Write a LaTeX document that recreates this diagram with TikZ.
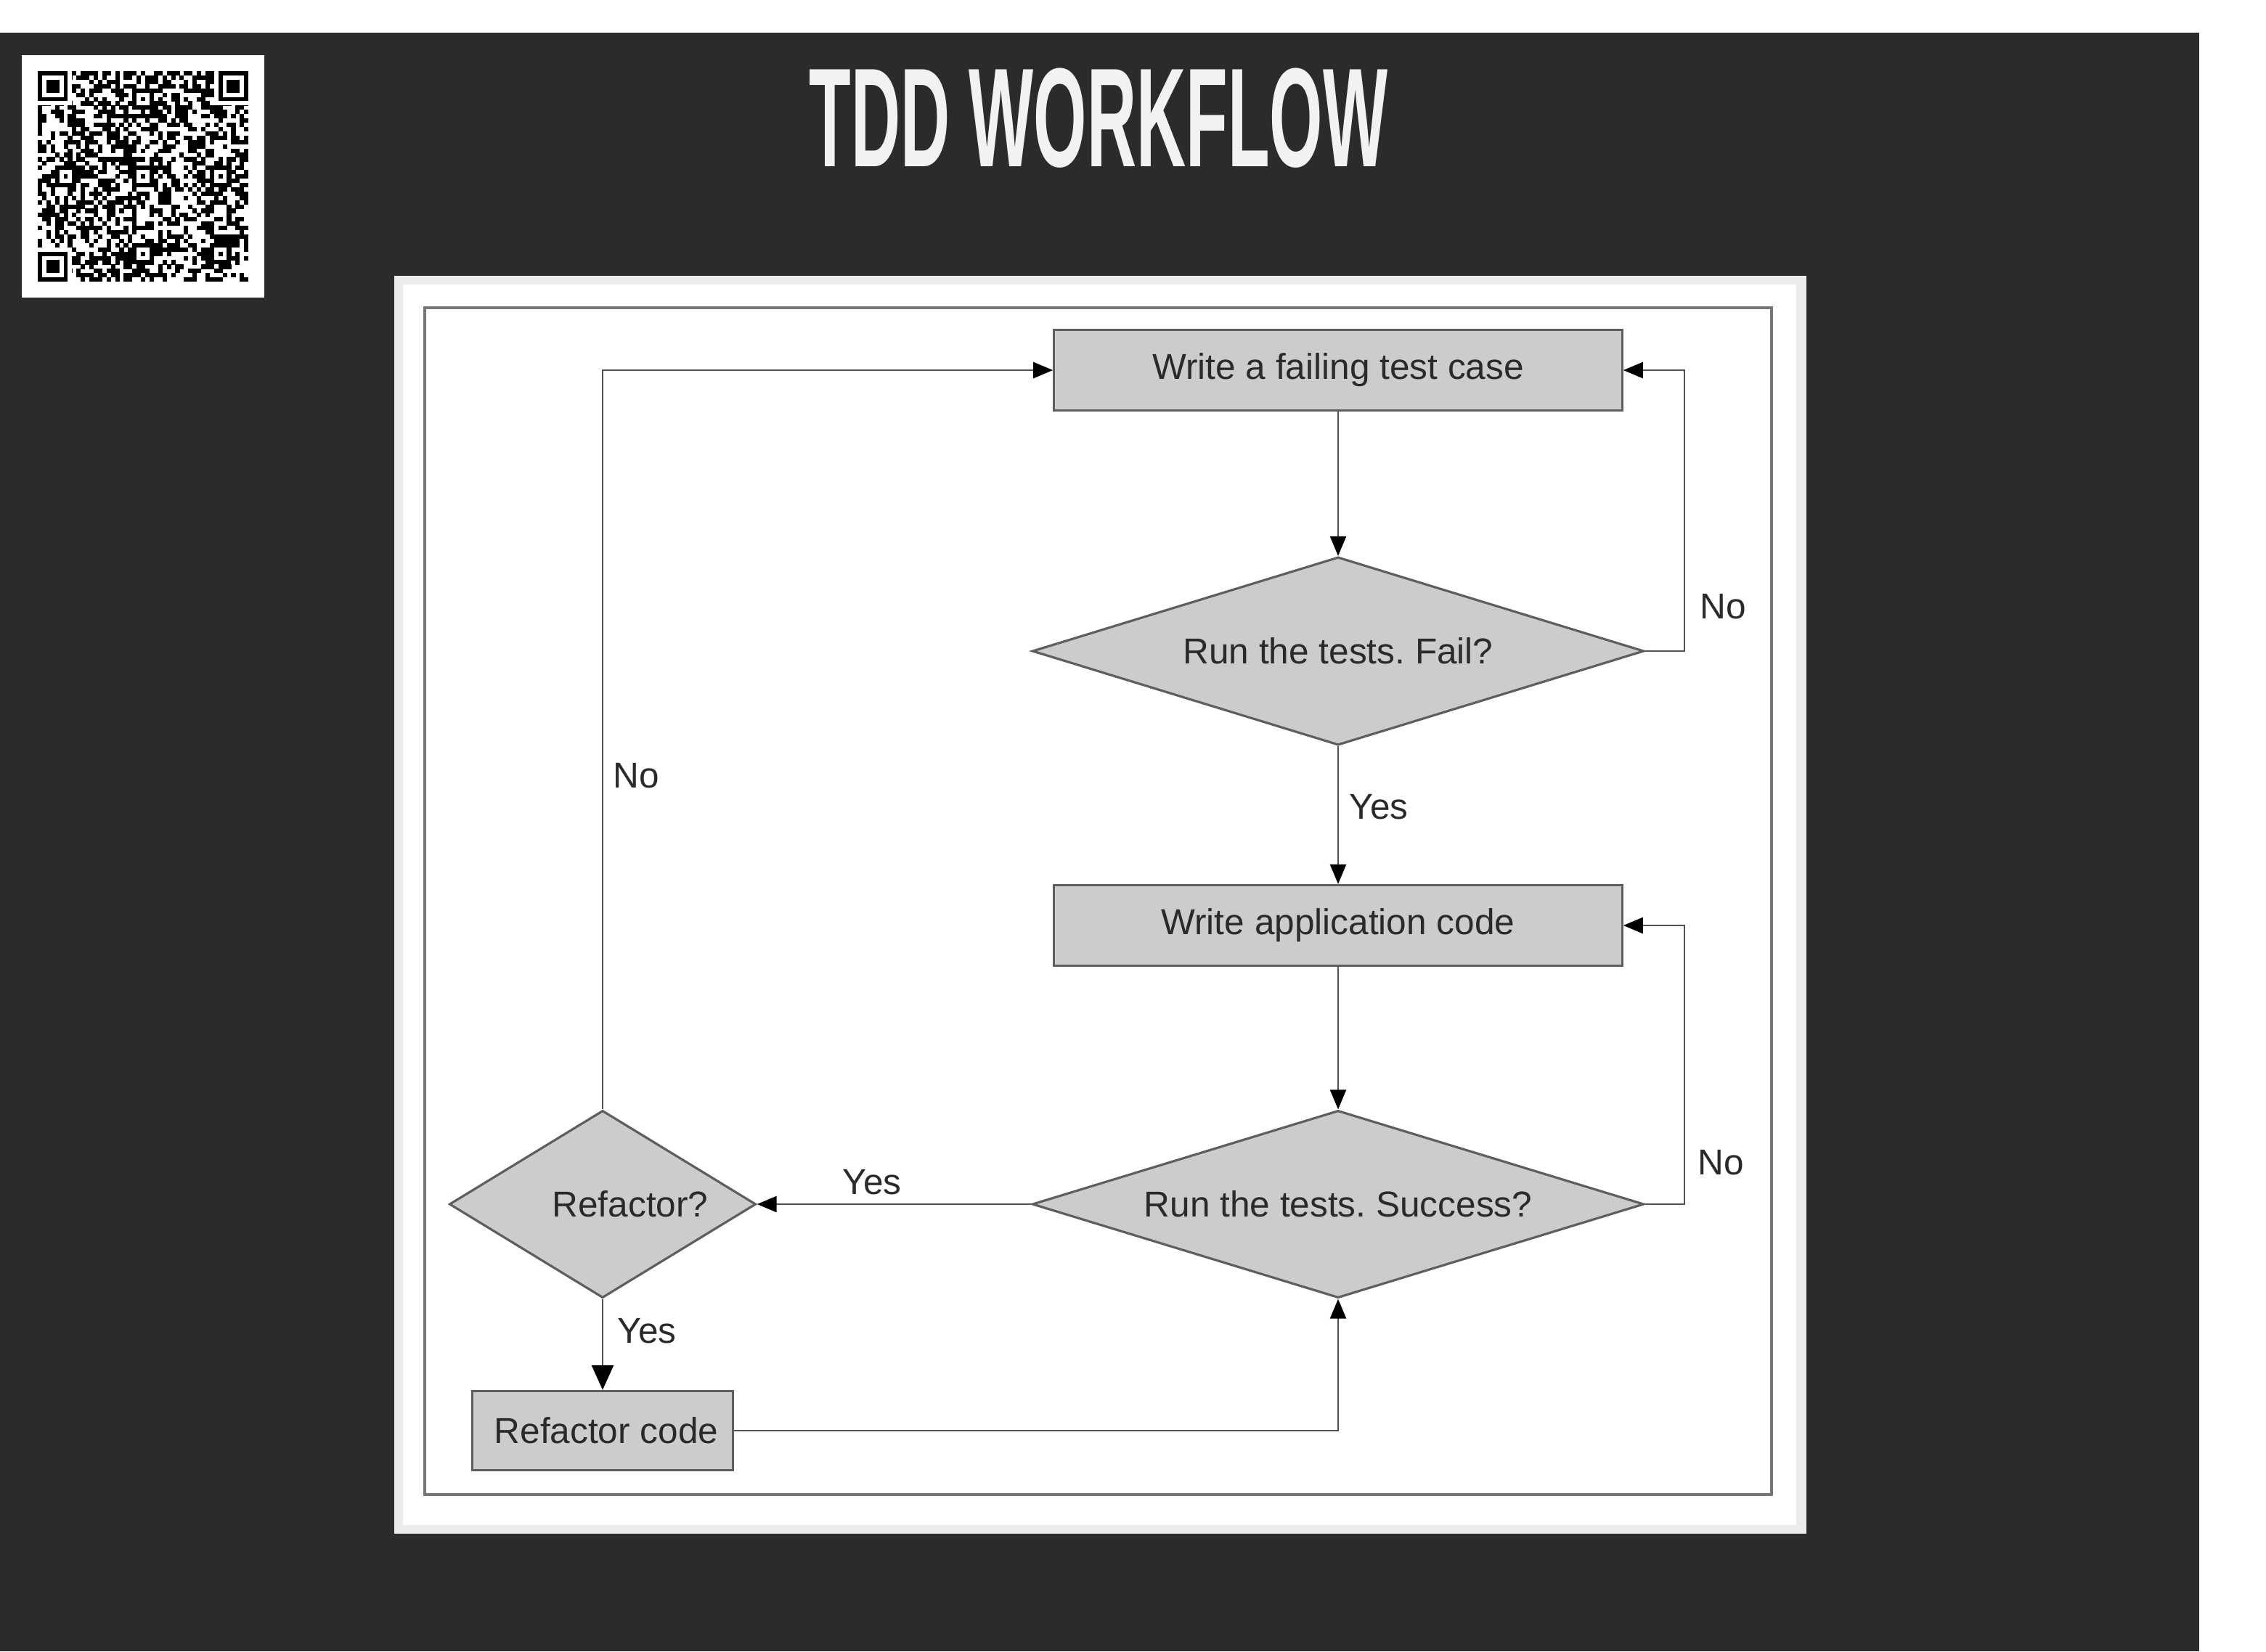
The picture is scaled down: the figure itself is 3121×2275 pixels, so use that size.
\documentclass[tikz,border=0pt]{standalone}
\usepackage{fontspec}
\setmainfont{Liberation Sans}
\frenchspacing
\usetikzlibrary{shapes.geometric,arrows.meta}
\definecolor{slidebg}{HTML}{2B2B2B}
\definecolor{boxfill}{HTML}{CBCCCD}
\definecolor{boxline}{HTML}{5E5E5E}
\definecolor{conline}{HTML}{505050}
\definecolor{txt}{HTML}{2A2A2A}
\definecolor{framegrey}{HTML}{ECECEC}
\definecolor{innerframe}{HTML}{767676}
\definecolor{titlecol}{HTML}{F2F2F2}
\newcommand\qrcell[2]{\fill[black] ({52+#1*5.92},{98+#2*5.92}) rectangle +(6.1,6.1);}
\newcommand\qrfinder[2]{%
  \fill[white] ({52+(#1-1)*5.92},{98+(#2-1)*5.92}) rectangle +(53.3,53.3);
  \fill[black] ({52+#1*5.92},{98+#2*5.92}) rectangle +(41.44,41.44);
  \fill[white] ({52+(#1+1)*5.92},{98+(#2+1)*5.92}) rectangle +(29.6,29.6);
  \fill[black] ({52+(#1+2)*5.92},{98+(#2+2)*5.92}) rectangle +(17.76,17.76);}
\newcommand\qralign[2]{%
  \fill[black] ({52+(#1-2)*5.92},{98+(#2-2)*5.92}) rectangle +(29.6,29.6);
  \fill[white] ({52+(#1-1)*5.92},{98+(#2-1)*5.92}) rectangle +(17.76,17.76);
  \fill[black] ({52+#1*5.92},{98+#2*5.92}) rectangle +(5.92,5.92);}
\begin{document}
\begin{tikzpicture}[x=0.01cm,y=-0.01cm,
  txtfont/.style={font=\fontsize{14.1}{16}\selectfont, text=txt},
  procbox/.style={rectangle, draw=boxline, line width=0.9pt, fill=boxfill,
    inner sep=0pt, minimum width=7.82cm, minimum height=1.11cm, txtfont},
  decbox/.style={diamond, draw=boxline, line width=0.9pt, fill=boxfill,
    inner sep=0pt, txtfont},
  arr/.style={draw=conline, line width=0.7pt,
    -{Triangle[length=0.27cm,width=0.22cm,fill=black,color=black]}},
  lbl/.style={txtfont, inner sep=0pt}]
\useasboundingbox (0,0) rectangle (3121,2275);
% page background
\fill[white] (0,0) rectangle (3121,2275);
\fill[slidebg] (0,45) rectangle (3029,2275);
% QR code
\fill[white] (30,76) rectangle (364,410);
\pgfmathsetseed{4242}
\foreach \i in {0,...,48}{%
  \foreach \j in {0,...,48}{%
    \pgfmathsetmacro\qrr{rnd}%
    \ifdim\qrr pt<0.5pt \qrcell{\i}{\j}\fi
  }}
\qrfinder{0}{0}
\qrfinder{42}{0}
\qrfinder{0}{42}
\qralign{24}{6}
\qralign{6}{24}
\qralign{24}{24}
\qralign{42}{24}
\qralign{24}{42}
\qralign{42}{42}
% title
\node[anchor=base, inner sep=0pt, text=titlecol] (title) at (1513,229)
  {\scalebox{0.486}[1]{\fontsize{55.2}{60}\selectfont\bfseries TDD WORKFLOW}};
% diagram frame
\fill[framegrey] (543,380) rectangle (2488,2113);
\fill[white] (555,392) rectangle (2474,2101);
\draw[innerframe, line width=0.9pt] (585,424) rectangle (2440,2059);
% nodes
\node[procbox] (b1) at (1843,510) {Write a failing test case};
\node[decbox, aspect=3.25, minimum width=8.42cm, minimum height=2.59cm] (d1) at (1843,897) {Run the tests. Fail?};
\node[procbox] (b2) at (1843,1275) {Write application code};
\node[decbox, aspect=3.25, minimum width=8.42cm, minimum height=2.58cm] (d2) at (1843,1659) {Run the tests. Success?};
\node[decbox, aspect=1.64, minimum width=4.22cm, minimum height=2.58cm] (rf) at (830,1659) {\hspace*{0.76cm}Refactor?};
\node[procbox, minimum width=3.58cm, minimum height=1.09cm] (b3) at (830,1971) {\hspace*{0.1cm}Refactor code};
% connectors
\draw[arr] (b1) -- (d1);
\draw[arr] (d1) -- (b2);
\draw[arr] (d1.east) -- ++(54,0) |- (b1.east);
\draw[arr] (b2) -- (d2);
\draw[arr] (d2.east) -- ++(54,0) |- (b2.east);
\draw[arr] (d2.west) -- (rf.east);
\draw[draw=conline, line width=0.7pt,
  -{Triangle[length=0.34cm,width=0.3cm,fill=black,color=black]}] (rf.south) -- (b3.north);
\draw[arr] (b3.east) -| (d2.south);
\draw[arr] (rf.north) |- (b1.west);
% labels
\node[lbl] (no1) at (2373,836) {No};
\node[lbl] (no2) at (2370,1602) {No};
\node[lbl] (no3) at (876,1069) {No};
\node[lbl] (yes1) at (1899,1112) {Yes};
\node[lbl] (yes2) at (1201,1629) {Yes};
\node[lbl] (yes3) at (891,1834) {Yes};
\end{tikzpicture}
\end{document}
